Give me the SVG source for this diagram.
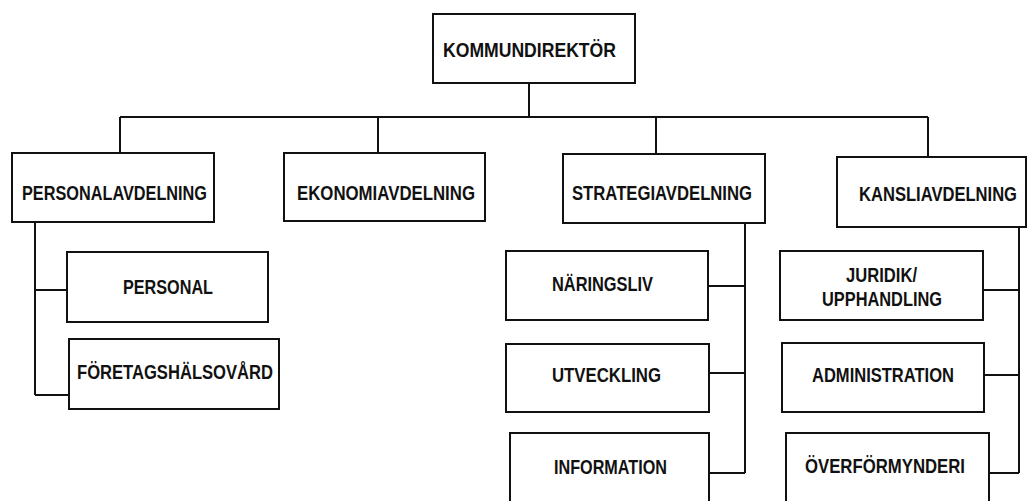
<svg xmlns="http://www.w3.org/2000/svg" width="1029" height="501" viewBox="0 0 1029 501">
<style>
.box{fill:#fff;stroke:#111;stroke-width:2}
.ln{fill:none;stroke:#111;stroke-width:2}
text{font-family:"Liberation Sans",Arial,sans-serif;font-weight:bold;font-size:20px;fill:#111}
</style>
<rect width="1029" height="501" fill="#fff"/>
<g id="connectors" class="ln">
<path d="M529,83V117M120,117H928M120,117V153M378,117V153M656,117V154M928,117V157"/>
<path d="M35,222V395M35,290H67M35,395H69"/>
<path d="M745,223V473M708,286H745M709,373H745M709,473H745"/>
<path d="M1019,227V473M983,290H1019M984,375H1019M989,473H1019"/>
</g>
<g id="kommundirektor"><rect class="box" x="433" y="14" width="202" height="69"/><text x="443" y="57" textLength="173" lengthAdjust="spacingAndGlyphs">KOMMUNDIREKTÖR</text></g>
<g id="personalavdelning"><rect class="box" x="12" y="153" width="202" height="69"/><text x="22" y="200" textLength="185" lengthAdjust="spacingAndGlyphs">PERSONALAVDELNING</text></g>
<g id="ekonomiavdelning"><rect class="box" x="284" y="153" width="201" height="68"/><text x="297" y="200" textLength="178" lengthAdjust="spacingAndGlyphs">EKONOMIAVDELNING</text></g>
<g id="strategiavdelning"><rect class="box" x="563" y="154" width="202" height="69"/><text x="572" y="200" textLength="180" lengthAdjust="spacingAndGlyphs">STRATEGIAVDELNING</text></g>
<g id="kansliavdelning"><rect class="box" x="837" y="157" width="189" height="70"/><text x="859" y="201" textLength="158" lengthAdjust="spacingAndGlyphs">KANSLIAVDELNING</text></g>
<g id="personal"><rect class="box" x="67" y="252" width="201" height="70"/><text x="123" y="294" textLength="90" lengthAdjust="spacingAndGlyphs">PERSONAL</text></g>
<g id="foretagshalsovard"><rect class="box" x="69" y="339" width="210" height="70"/><text x="77" y="379" textLength="196" lengthAdjust="spacingAndGlyphs">FÖRETAGSHÄLSOVÅRD</text></g>
<g id="naringsliv"><rect class="box" x="506" y="251" width="202" height="69"/><text x="552" y="291" textLength="101" lengthAdjust="spacingAndGlyphs">NÄRINGSLIV</text></g>
<g id="utveckling"><rect class="box" x="506" y="344" width="203" height="68"/><text x="552" y="382" textLength="109" lengthAdjust="spacingAndGlyphs">UTVECKLING</text></g>
<g id="information"><rect class="box" x="510" y="433" width="199" height="72"/><text x="554" y="474" textLength="113" lengthAdjust="spacingAndGlyphs">INFORMATION</text></g>
<g id="juridik"><rect class="box" x="780" y="251" width="203" height="69"/><text x="846" y="282" textLength="71" lengthAdjust="spacingAndGlyphs">JURIDIK/</text><text x="822" y="306" textLength="120" lengthAdjust="spacingAndGlyphs">UPPHANDLING</text></g>
<g id="administration"><rect class="box" x="782" y="343" width="202" height="69"/><text x="812" y="382" textLength="142" lengthAdjust="spacingAndGlyphs">ADMINISTRATION</text></g>
<g id="overformynderi"><rect class="box" x="786" y="433" width="203" height="72"/><text x="805" y="473" textLength="160" lengthAdjust="spacingAndGlyphs">ÖVERFÖRMYNDERI</text></g>
</svg>
